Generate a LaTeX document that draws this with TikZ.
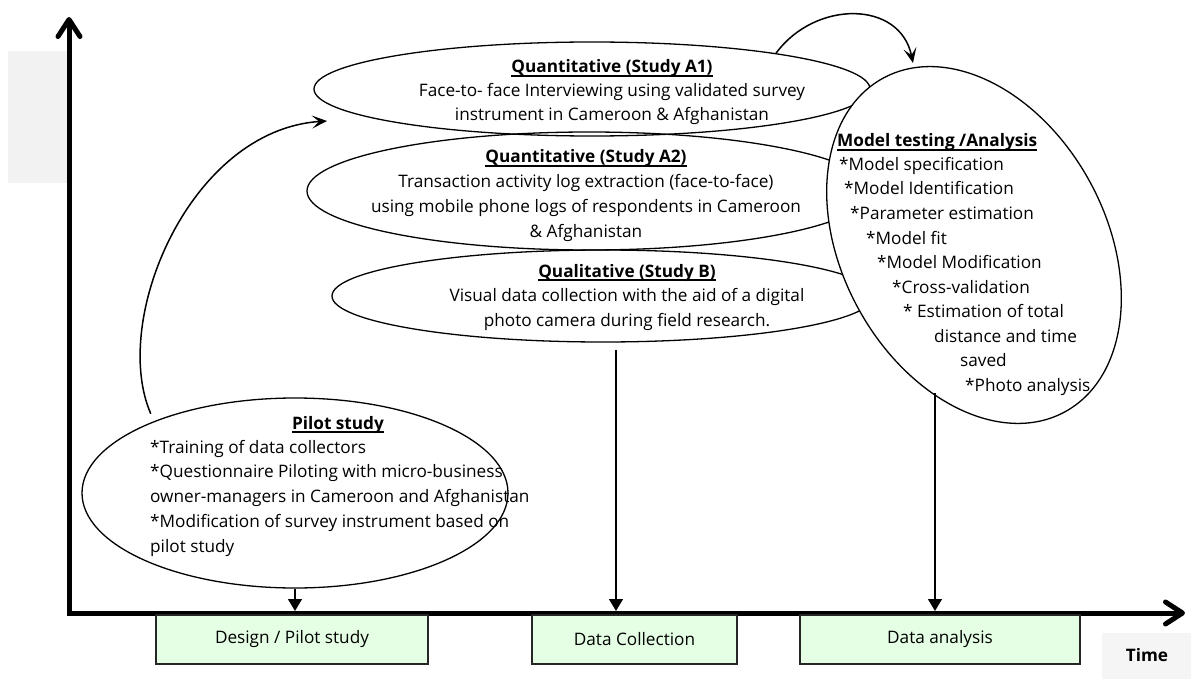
\documentclass[tikz,border=0pt]{standalone}
\usepackage{fontspec}
\setmainfont{Open Sans}
\usetikzlibrary{arrows.meta,shapes.geometric}
% bold heading with a rule just below the baseline
\newcommand\headul[1]{\setbox0\hbox{\bfseries #1}\rlap{\usebox0}\rule[-3.6pt]{\wd0}{1.3pt}}
\newcommand\bodyfont{\fontsize{17.2pt}{24.5pt}\selectfont}
\begin{document}
\begin{tikzpicture}[x=1pt,y=-1pt,
  every node/.style={font=\bodyfont, inner sep=0pt},
  txt/.style={anchor=base},
  txtl/.style={anchor=base west},
  oval/.style={ellipse, draw, line width=1.3pt, inner sep=0pt},
  phase/.style={draw=black!85, line width=1.2pt, fill=green!10, minimum height=49pt},
  axisline/.style={line width=5pt, line join=miter,
    {Straight Barb[length=17pt,width=22pt,line cap=round,line join=round]}-{Straight Barb[length=17pt,width=22pt,line cap=round,line join=round]}},
  flow/.style={line width=1.5pt, -{Stealth[length=15pt,width=13pt,inset=7pt]}},
  drop/.style={line width=1.3pt, -{Triangle[length=12pt,width=14pt]}},
]
\useasboundingbox (0,0) rectangle (1191,679);

% pale panels behind the axis and the time label
\fill[black!5] (8,51) rectangle (69,183);
\fill[black!4] (1102,633) rectangle (1191,679);

% axes
\coordinate (yTip) at (69,17);
\coordinate (O) at (69,613);
\coordinate (xTip) at (1185,613);
\coordinate (axTop) at (0,611);
\draw[axisline] (yTip) -- (O) -- (xTip);

% phases along the time axis
\node[phase, minimum width=272pt] (design) at (292,639.5) {Design / Pilot study};
\node[phase, minimum width=205pt] (collect) at (634.5,639.5) {Data Collection};
\node[phase, minimum width=280pt] (analysis) at (940,639.5) {Data analysis};
\node[anchor=base, font=\bodyfont\bfseries] (time) at (1147,661) {Time};

% study ovals
\node[oval, minimum width=556pt, minimum height=94pt] (A1) at (592,89) {};
\node[oval, minimum width=564pt, minimum height=118pt] (A2) at (589,191) {};
\node[oval, minimum width=542pt, minimum height=92pt] (B) at (603,296) {};
\node[oval, minimum width=426pt, minimum height=190pt] (P) at (295,493) {};
\node[oval, fill=white, minimum width=264pt, minimum height=380pt, rotate=28.6] (M) at (974,245) {};

% Study A1
\node[txt] (a1h) at (612,73) {\headul{Quantitative (Study A1)}};
\node[txt] (a1a) at (612,97) {Face-to- face Interviewing using validated survey};
\node[txt] (a1b) at (612,121) {instrument in Cameroon \& Afghanistan};

% Study A2
\node[txt] (a2h) at (586,163) {\headul{Quantitative (Study A2)}};
\node[txt] (a2a) at (586,188) {Transaction activity log extraction (face-to-face)};
\node[txt] (a2b) at (586,213) {using mobile phone logs of respondents in Cameroon};
\node[txt] (a2c) at (586,237) {\& Afghanistan};

% Study B
\node[txt] (bh) at (627,277) {\headul{Qualitative (Study B)}};
\node[txt] (ba) at (627,301) {Visual data collection with the aid of a digital};
\node[txt] (bb) at (627,326) {photo camera during field research.};

% pilot study
\node[txt] (ph) at (338,429) {\headul{Pilot study}};
\node[txtl] (pa) at (150,453) {*Training of data collectors};
\node[txtl] (pb) at (150,477) {*Questionnaire Piloting with micro-business};
\node[txtl] (pc) at (150,502) {owner-managers in Cameroon and Afghanistan};
\node[txtl] (pd) at (150,527) {*Modification of survey instrument based on};
\node[txtl] (pe) at (150,552) {pilot study};

% model testing
\node[txtl] (mh) at (837,147) {\headul{Model testing /Analysis}};
\node[txtl] (m1) at (839,171) {*Model specification};
\node[txtl] (m2) at (844,195) {*Model Identification};
\node[txtl] (m3) at (850,219) {*Parameter estimation};
\node[txtl] (m4) at (866,244) {*Model fit};
\node[txtl] (m5) at (877,268) {*Model Modification};
\node[txtl] (m6) at (892,293) {*Cross-validation};
\node[txtl] (m7) at (903,317) {* Estimation of total};
\node[txtl] (m8) at (934,342) {distance and time};
\node[txtl] (m9) at (960,366) {saved};
\node[txtl] (m10) at (965,391) {*Photo analysis};

% connectors
\coordinate (pTip) at (327,121);
\coordinate (mTip) at (913,63);
\draw[flow, shorten <=8pt] (P.153) .. controls (110,320) and (190,130) .. (pTip);
\draw[flow] (A1.11) .. controls (815,0) and (900,0) .. (mTip);

\coordinate (bOut) at (616,350);
\coordinate (mOut) at (935,393);
\draw[drop] (P.south) -- (P.south |- axTop);
\draw[drop] (bOut) -- (bOut |- axTop);
\draw[drop] (mOut) -- (mOut |- axTop);
\end{tikzpicture}
\end{document}
